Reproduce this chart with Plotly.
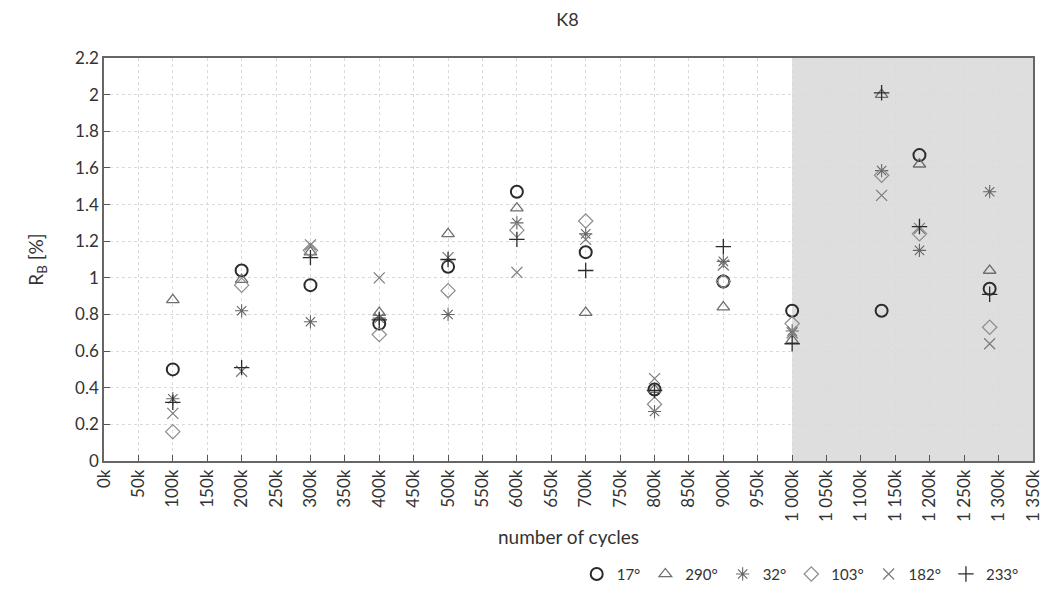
import plotly.graph_objects as go

cycles = [100000, 200000, 300000, 400000, 500000, 600000, 700000, 800000,
          900000, 1000000, 1130000, 1185000, 1287000]
s17 = [0.50, 1.04, 0.96, 0.75, 1.06, 1.47, 1.14, 0.39, 0.98, 0.82, 0.82, 1.67, 0.94]
s290 = [0.88, 0.99, 1.14, 0.81, 1.24, 1.38, 0.81, 0.39, 0.84, 0.66, 2.00, 1.62, 1.04]
s32 = [0.34, 0.82, 0.76, 0.78, 0.80, 1.30, 1.24, 0.27, 1.09, 0.71, 1.585, 1.15, 1.47]
s103 = [0.16, 0.96, 1.15, 0.69, 0.93, 1.26, 1.31, 0.31, 0.98, 0.75, 1.56, 1.24, 0.73]
s182 = [0.26, 0.49, 1.18, 1.00, 1.11, 1.03, 1.21, 0.45, 1.07, 0.70, 1.45, 1.27, 0.64]
s233 = [0.32, 0.51, 1.11, 0.77, 1.10, 1.21, 1.04, 0.385, 1.17, 0.64, 2.01, 1.28, 0.91]

series_names = ["17°", "290°", "32°", "103°", "182°", "233°"]
x_ticks = list(range(0, 1350001, 50000))
x_ticktext = [(f"{v // 1000:,}".replace(",", " ") + "k") for v in x_ticks]
y_ticks = [0, 0.2, 0.4, 0.6, 0.8, 1, 1.2, 1.4, 1.6, 1.8, 2, 2.2]
y_ticktext = ["0", "0.2", "0.4", "0.6", "0.8", "1", "1.2", "1.4", "1.6", "1.8", "2", "2.2"]
shade_start, shade_end = 1000000, 1350000

styles = [
    dict(symbol="circle-open", size=12, color="#2b2b2b", width=2),
    dict(symbol="triangle-up-open", size=11, color="#6e6e6e", width=1.3),
    dict(symbol="asterisk-open", size=11, color="#666666", width=1.1),
    dict(symbol="diamond-open", size=11, color="#8c8c8c", width=1.2),
    dict(symbol="x-thin-open", size=11, color="#7a7a7a", width=1.2),
    dict(symbol="cross-thin-open", size=11, color="#2b2b2b", width=1.3),
]

fig = go.Figure()
for name, vals, st in zip(series_names, [s17, s290, s32, s103, s182, s233], styles):
    fig.add_trace(go.Scatter(
        x=cycles, y=vals, mode="markers", name=name,
        marker=dict(symbol=st["symbol"], size=st["size"],
                    color=st["color"], line=dict(color=st["color"], width=st["width"])),
    ))

fig.add_shape(type="rect", xref="x", yref="y", x0=shade_start, x1=shade_end,
              y0=0, y1=2.2, fillcolor="#dedede", line=dict(width=0), layer="below")

font = "Lato, 'Open Sans', sans-serif"
fig.update_layout(
    width=1045, height=589,
    margin=dict(l=104, r=12, t=58, b=128, autoexpand=False),
    paper_bgcolor="white", plot_bgcolor="white",
    font=dict(family=font, color="#333333"),
    title=dict(text="K8", x=0.543, xanchor="center", y=0.978, yanchor="top",
               font=dict(size=18, color="#333333")),
    showlegend=True,
    legend=dict(orientation="h", x=0.99, xanchor="right", y=-0.24, yanchor="top",
                font=dict(size=15, color="#333333"), itemwidth=30,
                bgcolor="rgba(0,0,0,0)", tracegroupgap=0),
    xaxis=dict(
        range=[0, 1350000], tickvals=x_ticks, ticktext=x_ticktext, tickangle=-90,
        tickfont=dict(size=17, color="#333333"), automargin=False,
        showgrid=True, gridcolor="#dadada", griddash="dot", gridwidth=1,
        ticks="inside", ticklen=6, tickcolor="#555555",
        showline=True, linecolor="#666666", linewidth=1.5, mirror=True,
        zeroline=False,
        title=dict(text="number of cycles", font=dict(size=19, color="#333333"), standoff=10),
    ),
    yaxis=dict(
        range=[0, 2.2], tickvals=y_ticks, ticktext=y_ticktext,
        tickfont=dict(size=17, color="#333333"), automargin=False,
        showgrid=True, gridcolor="#dadada", griddash="dot", gridwidth=1,
        ticks="inside", ticklen=6, tickcolor="#555555",
        showline=True, linecolor="#666666", linewidth=1.5, mirror=True,
        zeroline=False,
        title=dict(text="R<sub>B</sub> [%]", font=dict(size=19, color="#333333"), standoff=26),
    ),
)

fig.write_html(
    "out.html",
    config={"displayModeBar": False},
    post_script="document.body.style.margin='0';document.body.style.overflow='hidden';",
)
